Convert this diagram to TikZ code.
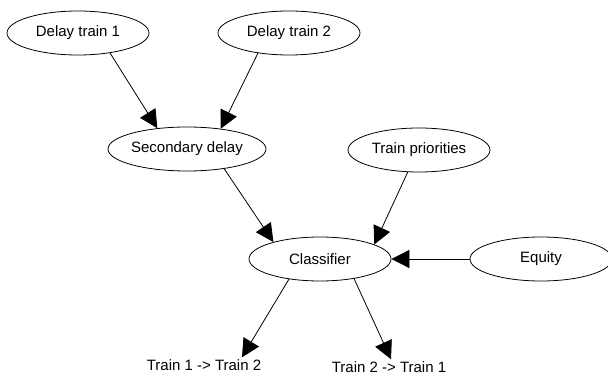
\documentclass[tikz,border=0pt]{standalone}
\usepackage{fontspec}
\setmainfont{Liberation Sans}
\usetikzlibrary{shapes.geometric,arrows.meta}

\begin{document}
\begin{tikzpicture}[x=1pt,y=-1pt,
    var/.style={draw,ellipse,line width=0.8pt,minimum width=142pt,minimum height=44pt,inner sep=0pt,font=\fontsize{15pt}{18pt}\selectfont},
    lbl/.style={inner sep=2pt,font=\fontsize{15pt}{18pt}\selectfont},
    link/.style={-{Triangle[length=18pt,width=18pt]},line width=0.8pt}]
    \useasboundingbox (0,0) rectangle (608,374);
    \node[var] (dt1) at (78,33) {Delay train 1};
    \node[var] (dt2) at (289,33) {Delay train 2};
    \node[var,minimum width=150pt] (sec) at (187,149) {Secondary delay};
    \node[var] (prio) at (419,150) {Train priorities};
    \node[var] (cls) at (320,259) {Classifier};
    \node[var] (eq) at (541,259) {Equity};
    \node[lbl] (t12) at (204,365) {Train 1 -> Train 2};
    \node[lbl] (t21) at (389,367) {Train 2 -> Train 1};
    \draw[link] (dt1.-32) -- (sec.145);
    \draw[link] (dt2.-147) -- (sec.31);
    \draw[link] (sec.-28) -- (cls.160);
    \draw[link] (prio.-117) -- (cls.15);
    \draw[link] (eq.west) -- (cls.east);
    \draw[link] (cls.-147) -- ([xshift=38pt]t12.north);
    \draw[link] (cls.-30) -- ([xshift=2pt]t21.north);
\end{tikzpicture}
\end{document}
